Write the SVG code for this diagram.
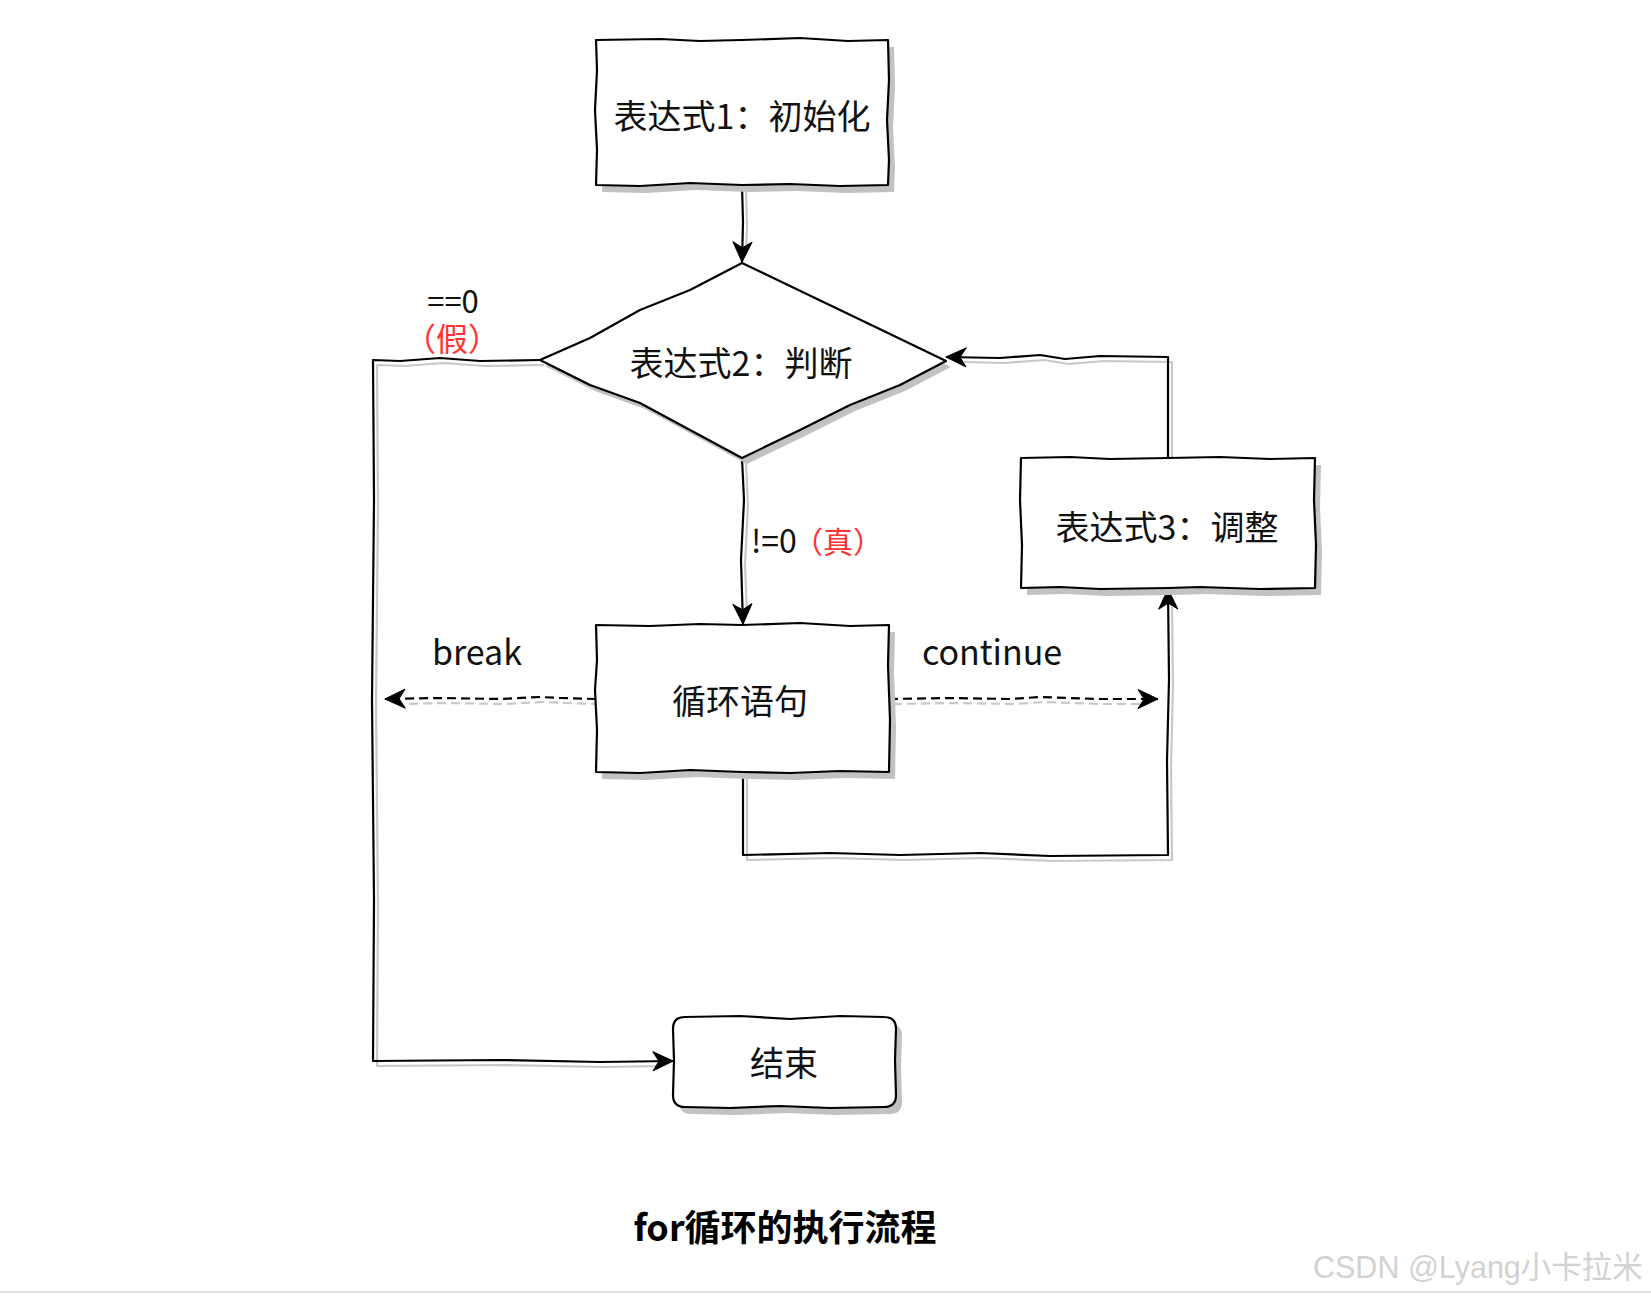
<svg xmlns="http://www.w3.org/2000/svg" width="1651" height="1299" viewBox="0 0 1651 1299">
<style>
.node{fill:#fff;stroke:#000;stroke-width:2.2;stroke-linejoin:round}
.shadow{fill:#c2c2c2;stroke:none}
.lbl{font-family:"Noto Sans CJK SC","Noto Sans",sans-serif;font-size:34px;fill:#111;text-anchor:middle;dominant-baseline:central}
.elbl{font-family:"Noto Sans CJK SC","Noto Sans",sans-serif;font-size:32px;fill:#111}
.edge{fill:none;stroke:#000;stroke-width:2.2;stroke-linejoin:round}
.eshadow{fill:none;stroke:#c8c8c8;stroke-width:2.2;stroke-linejoin:round}
.dash{stroke-dasharray:9 5}
.red{fill:#ff3333}
</style>
<defs>
<marker id="arr" markerUnits="userSpaceOnUse" markerWidth="26" markerHeight="26" viewBox="-24 -13 26 26" refX="0" refY="0" orient="auto">
<path d="M-20,-9.5 L0,0 L-20,9.5 L-14,0 Z" fill="#000" stroke="#000" stroke-width="1" stroke-linejoin="round"/>
</marker>
</defs>
<rect width="1651" height="1299" fill="#fff"/>

<g id="connectors">
<g id="edge-shadows" transform="translate(4,5)">
<path class="eshadow" d="M742,185 L743,222 L742,248"/>
<path class="eshadow" d="M742,458 L744,500 L741,560 L743,608"/>
<path class="eshadow" d="M540,360 L480,361 L440,358 L400,361 L373,360 L374,500 L372,700 L374,900 L373,1061 L500,1060 L600,1062 L658,1061"/>
<path class="eshadow" d="M743,772 L743,855 L830,853 L900,855 L980,853 L1050,856 L1168,855 L1167,760 L1169,680 L1168,602"/>
<path class="eshadow" d="M1168,458 L1168,357 L1100,356 L1065,359 L1040,355 L1000,358 L960,357"/>
<path class="eshadow dash" d="M596,699 L560,698 L540,697 L500,699 L440,698 L400,699"/>
<path class="eshadow dash" d="M889,699 L950,698 L1010,699 L1040,697 L1100,699 L1143,699"/>
</g>
<path class="edge" d="M742,185 L743,222 L742,262" marker-end="url(#arr)"/>
<path class="edge" d="M742,458 L744,500 L741,560 L743,624" marker-end="url(#arr)"/>
<path class="edge" d="M540,360 L480,361 L440,358 L400,361 L373,360 L374,500 L372,700 L374,900 L373,1061 L500,1060 L600,1062 L673,1061" marker-end="url(#arr)"/>
<path class="edge" d="M743,772 L743,855 L830,853 L900,855 L980,853 L1050,856 L1168,855 L1167,760 L1169,680 L1168,589" marker-end="url(#arr)"/>
<path class="edge" d="M1168,458 L1168,357 L1100,356 L1065,359 L1040,355 L1000,358 L946,357" marker-end="url(#arr)"/>
<path class="edge dash" d="M596,699 L560,698 L540,697 L500,699 L440,698 L385,699" marker-end="url(#arr)"/>
<path class="edge dash" d="M889,699 L950,698 L1010,699 L1040,697 L1100,699 L1158,699" marker-end="url(#arr)"/>
<text class="elbl" text-anchor="middle"><tspan x="453" y="313" font-size="31">==0</tspan><tspan class="red" x="452" y="351">（假）</tspan></text>
<text class="elbl" x="751" y="553" font-size="29">!=0<tspan class="red" font-size="30" x="793">（真）</tspan></text>
<text class="lbl" x="477" y="650">break</text>
<text class="lbl" x="992" y="650">continue</text>
</g>

<g id="node-init">
<path class="shadow" transform="translate(6,7)" d="M596,40 L660,39 L700,41 L742,40 L800,38 L848,41 L888,40 L889,80 L887,120 L889,160 L888,185 L840,186 L790,184 L742,185 L690,183 L640,186 L596,185 L597,150 L595,110 L597,70 Z"/>
<path class="node" d="M596,40 L660,39 L700,41 L742,40 L800,38 L848,41 L888,40 L889,80 L887,120 L889,160 L888,185 L840,186 L790,184 L742,185 L690,183 L640,186 L596,185 L597,150 L595,110 L597,70 Z"/>
<text class="lbl" x="742" y="114">表达式1：初始化</text>
</g>

<g id="node-cond">
<path class="shadow" transform="translate(5,6)" d="M742,263 L790,286 L840,310 L890,334 L946,361 L900,385 L850,405 L800,430 L742,458 L690,430 L640,403 L590,385 L540,360 L590,338 L640,310 L690,290 Z"/>
<path class="node" d="M742,263 L790,286 L840,310 L890,334 L946,361 L900,385 L850,405 L800,430 L742,458 L690,430 L640,403 L590,385 L540,360 L590,338 L640,310 L690,290 Z"/>
<text class="lbl" x="741" y="361">表达式2：判断</text>
</g>

<g id="node-update">
<path class="shadow" transform="translate(6,7)" d="M1021,458 L1070,457 L1110,459 L1168,458 L1220,457 L1270,459 L1315,458 L1314,500 L1316,545 L1315,588 L1260,589 L1200,587 L1168,588 L1100,589 L1060,587 L1021,588 L1022,545 L1020,500 Z"/>
<path class="node" d="M1021,458 L1070,457 L1110,459 L1168,458 L1220,457 L1270,459 L1315,458 L1314,500 L1316,545 L1315,588 L1260,589 L1200,587 L1168,588 L1100,589 L1060,587 L1021,588 L1022,545 L1020,500 Z"/>
<text class="lbl" x="1167" y="525">表达式3：调整</text>
</g>

<g id="node-body">
<path class="shadow" transform="translate(6,7)" d="M596,625 L650,626 L700,624 L742,625 L800,623 L850,626 L889,625 L888,665 L890,720 L889,772 L840,771 L790,773 L742,772 L690,770 L640,773 L596,772 L597,730 L595,690 L597,660 Z"/>
<path class="node" d="M596,625 L650,626 L700,624 L742,625 L800,623 L850,626 L889,625 L888,665 L890,720 L889,772 L840,771 L790,773 L742,772 L690,770 L640,773 L596,772 L597,730 L595,690 L597,660 Z"/>
<text class="lbl" x="740" y="699">循环语句</text>
</g>

<g id="node-end">
<path class="shadow" transform="translate(6,7)" d="M685,1017 L740,1016 L790,1019 L840,1016 L884,1017 Q896,1017 896,1029 L895,1060 L896,1095 Q896,1107 884,1107 L830,1108 L780,1106 L730,1108 L685,1107 Q673,1107 673,1095 L674,1060 L673,1029 Q673,1017 685,1017 Z"/>
<path class="node" d="M685,1017 L740,1016 L790,1019 L840,1016 L884,1017 Q896,1017 896,1029 L895,1060 L896,1095 Q896,1107 884,1107 L830,1108 L780,1106 L730,1108 L685,1107 Q673,1107 673,1095 L674,1060 L673,1029 Q673,1017 685,1017 Z"/>
<text class="lbl" x="784" y="1061">结束</text>
</g>

<text x="785" y="1225" style="font-family:'Noto Sans CJK SC','Noto Sans',sans-serif;font-size:36px;font-weight:700;fill:#000;text-anchor:middle;dominant-baseline:central">for循环的执行流程</text>
<text x="1314" y="1279" style="font-family:'Liberation Sans','Noto Sans CJK SC',sans-serif;font-size:30.5px;fill:#ffffff">CSDN @Lyang小卡拉米</text>
<text x="1313" y="1278" style="font-family:'Liberation Sans','Noto Sans CJK SC',sans-serif;font-size:30.5px;fill:#d2d2d2">CSDN @Lyang小卡拉米</text>
<rect x="0" y="1291" width="1651" height="2" fill="#e4e4e4"/>
</svg>
